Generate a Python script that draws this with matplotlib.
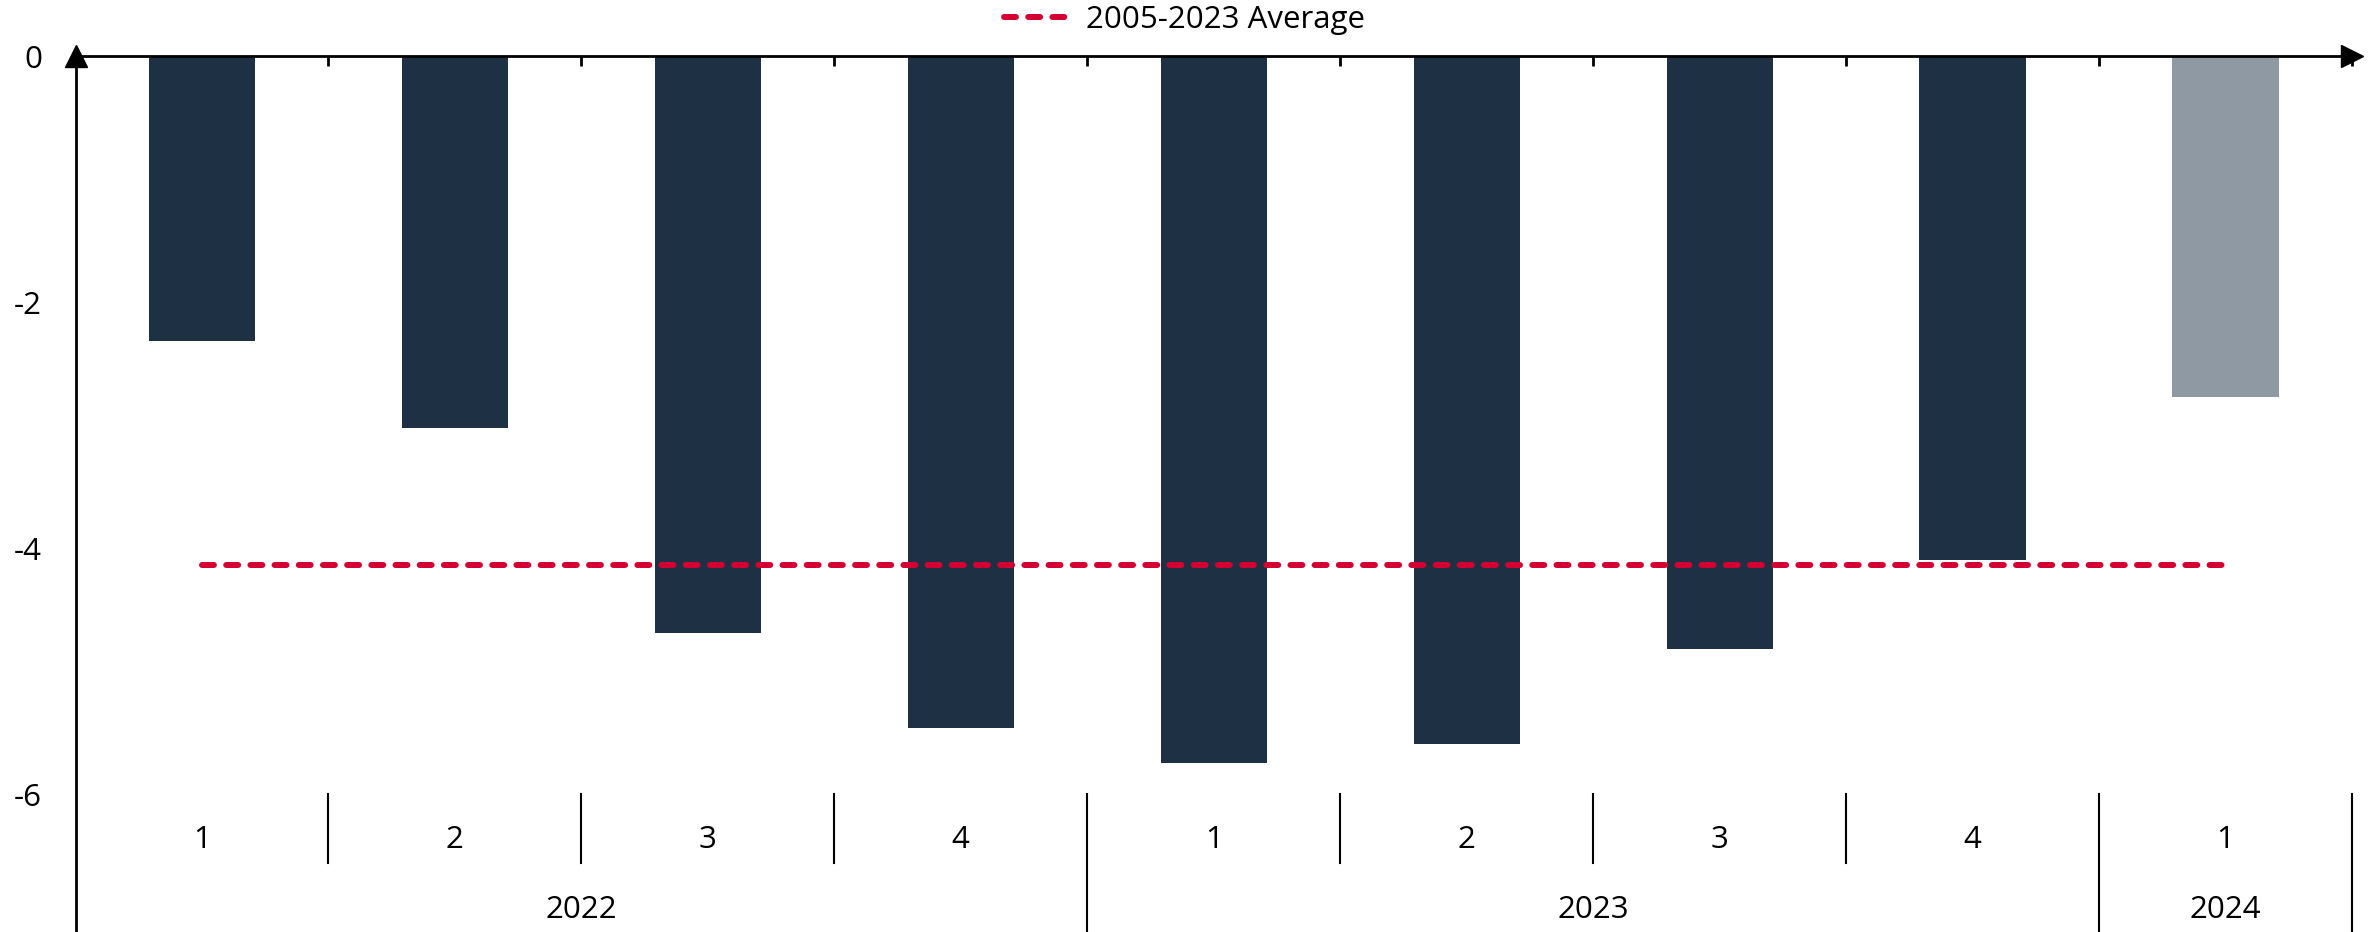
import matplotlib.pyplot as plt
import numpy as np

quarters = ['1', '2', '3', '4', '1', '2', '3', '4', '1']
years = ['2022', '2023', '2024']
quarters_per_year = [4, 4, 1]
values = [-2.32, -3.02, -4.69, -5.46, -5.75, -5.59, -4.82, -4.10, -2.77]
average = -4.14
average_label = '2005-2023 Average'

plt.rcParams['font.family'] = ['Open Sans', 'DejaVu Sans']
plt.rcParams['font.size'] = 22.5

fig = plt.figure(figsize=(23.69, 9.32), dpi=100)
ax = fig.add_axes([75.5 / 2369, 0, (2352 - 75.5) / 2369, (932 - 56) / 932])

n = len(values)
x = np.arange(n) + 0.5
colors = ['#1e3144'] * (n - 1) + ['#8e99a3']
ax.bar(x, values, width=0.42, color=colors, zorder=2)

# average line from first to last bar centre
ax.plot([x[0], x[-1]], [average, average], color='#d50032', lw=4.3,
        dashes=(2, 2.05), dash_capstyle='round', label=average_label, zorder=3)

ax.set_xlim(0, n)
ax.set_ylim(-7.12, 0)
ax.set_yticks([0, -2, -4, -6])
ax.set_yticklabels(['0', '-2', '-4', '-6'])
ax.tick_params(axis='y', length=0, pad=24)

# top axis at zero with ticks at category boundaries
ax.xaxis.tick_top()
ax.set_xticks(np.arange(n + 1))
ax.set_xticklabels([])
ax.tick_params(axis='x', direction='in', length=7, width=2)

for s in ['right', 'bottom']:
    ax.spines[s].set_visible(False)
ax.spines['top'].set_linewidth(2)
ax.spines['left'].set_linewidth(2)

# arrows
ax.plot(n, 0, marker='>', color='black', markersize=16, clip_on=False, zorder=5)
ax.plot(0, 0, marker='^', color='black', markersize=16, clip_on=False, zorder=5)

# category axis at the bottom
q_top, q_bot, y_bot = -6.0, -6.56, -7.12
for i, q in enumerate(quarters):
    ax.text(x[i], -6.37, q, ha='center', va='center')
boundaries = np.cumsum([0] + quarters_per_year)
for b in range(1, n):
    if b in boundaries:
        ax.plot([b, b], [q_top, y_bot], color='black', lw=1.5, clip_on=False)
    else:
        ax.plot([b, b], [q_top, q_bot], color='black', lw=1.5, clip_on=False)
ax.plot([n, n], [q_top, y_bot], color='black', lw=1.5, clip_on=False)
for j, yr in enumerate(years):
    mid = (boundaries[j] + boundaries[j + 1]) / 2
    ax.text(mid, -6.94, yr, ha='center', va='center')

fig.legend(loc='center', bbox_to_anchor=(0.5, 1 - 20 / 932), frameon=False,
           handlelength=2.2, handletextpad=0.4, borderpad=0)

fig.savefig('out.png', dpi=100)
